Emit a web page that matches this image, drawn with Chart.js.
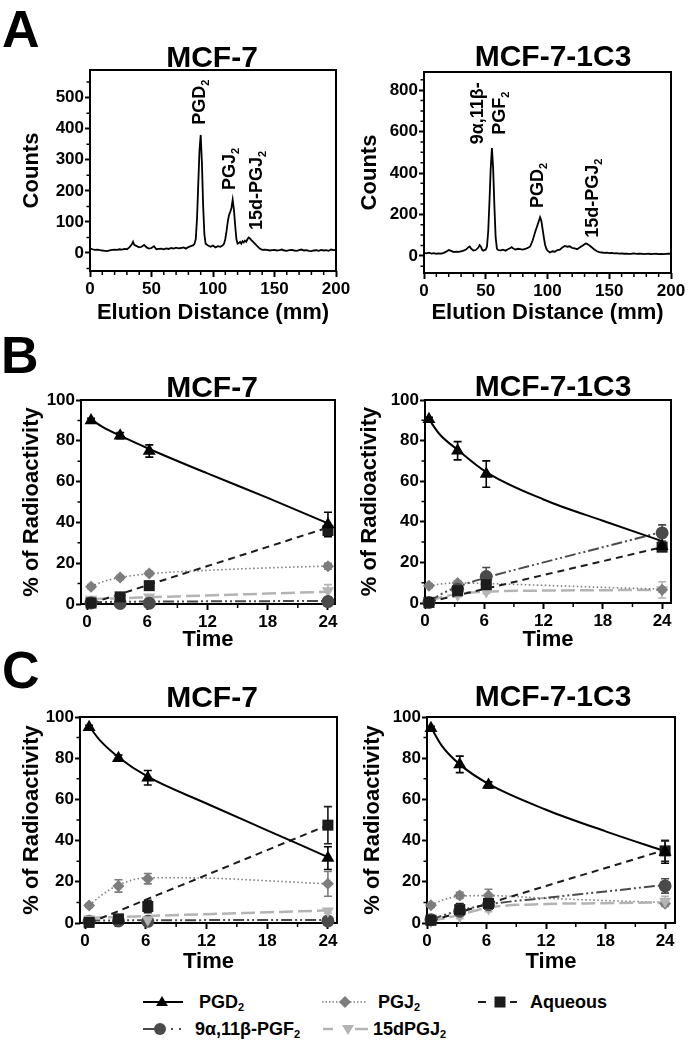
<!DOCTYPE html>
<html>
<head>
<meta charset="utf-8">
<title>PGD2 metabolism in MCF-7 cells</title>
<script src="https://cdn.jsdelivr.net/npm/chart.js@4.4.1/dist/chart.umd.min.js"></script>
<style>
  html, body { margin: 0; padding: 0; background: #fff; }
  body { position: relative; width: 690px; height: 1050px; overflow: hidden;
         font-family: "Liberation Sans", Arial, sans-serif; font-weight: bold; color: #000; }
  canvas { position: absolute; }
  .letter { position: absolute; font-size: 52px; line-height: 1; }
  .key { position: absolute; font-size: 18px; line-height: 20px; white-space: nowrap; }
  .key sub { font-size: 11px; vertical-align: -3px; }
  svg { position: absolute; overflow: visible; }
</style>
</head>
<body>
<div class="letter" style="left:2px; top:3px;">A</div>
<div class="letter" style="left:1px; top:329px;">B</div>
<div class="letter" style="left:2px; top:644px;">C</div>

<canvas id="chromMCF7"></canvas>
<canvas id="chrom1C3"></canvas>
<canvas id="bMCF7"></canvas>
<canvas id="b1C3"></canvas>
<canvas id="cMCF7"></canvas>
<canvas id="c1C3"></canvas>

<!-- legend -->
<svg style="left:143px; top:992px;" width="42" height="20">
  <line x1="0" y1="10" x2="40" y2="10" stroke="#000" stroke-width="2"/>
  <polygon points="19,4 25,14 13,14" fill="#000"/>
</svg>
<div class="key" style="left:199px; top:992px;">PGD<sub>2</sub></div>

<svg style="left:322px; top:992px;" width="46" height="20">
  <line x1="0" y1="10" x2="45" y2="10" stroke="#7d7d7d" stroke-width="1.6" stroke-dasharray="1.5,2"/>
  <polygon points="23,4 29,10 23,16 17,10" fill="#7d7d7d"/>
</svg>
<div class="key" style="left:378px; top:992px;">PGJ<sub>2</sub></div>

<svg style="left:477px; top:992px;" width="42" height="20">
  <line x1="1" y1="10" x2="9" y2="10" stroke="#1c1c1c" stroke-width="2"/>
  <line x1="33" y1="10" x2="40" y2="10" stroke="#1c1c1c" stroke-width="2"/>
  <rect x="17.5" y="4.5" width="11" height="11" fill="#1c1c1c"/>
</svg>
<div class="key" style="left:530px; top:992px;">Aqueous</div>

<svg style="left:143px; top:1019px;" width="42" height="20">
  <line x1="0" y1="10" x2="17" y2="10" stroke="#4a4a4a" stroke-width="2"/>
  <circle cx="17" cy="10" r="6" fill="#4a4a4a"/>
  <line x1="28" y1="10" x2="30" y2="10" stroke="#4a4a4a" stroke-width="2"/>
  <line x1="36" y1="10" x2="38" y2="10" stroke="#4a4a4a" stroke-width="2"/>
</svg>
<div class="key" style="left:195px; top:1019px;">9&alpha;,11&beta;-PGF<sub>2</sub></div>

<svg style="left:322px; top:1019px;" width="48" height="20">
  <line x1="1" y1="10" x2="11" y2="10" stroke="#b4b4b4" stroke-width="2.5"/>
  <line x1="33" y1="10" x2="46" y2="10" stroke="#b4b4b4" stroke-width="2.5"/>
  <polygon points="26,16 32,6 20,6" fill="#b4b4b4"/>
</svg>
<div class="key" style="left:373px; top:1019px;">15dPGJ<sub>2</sub></div>

<script>
// ---------- Panel A: radio-chromatograms (elution distance in mm, counts) ----------
const distMCF7 = [
  0, 2, 4, 6, 8, 10, 12, 14, 16, 18,
  20, 22, 24, 26, 28, 30, 32, 34, 35, 36,
  38, 40, 42, 44, 46, 48, 50, 52, 54, 56,
  58, 60, 62, 64, 66, 68, 70, 72, 74, 76,
  78, 80, 82, 84, 85, 86, 87, 88, 89, 90,
  91, 92, 93, 94, 96, 98, 100, 102, 104, 106,
  108, 109, 110, 111, 112, 113, 114, 115, 116, 117,
  118, 119, 120, 121, 122, 123, 124, 125, 126, 127,
  128, 129, 130, 131, 132, 134, 136, 138, 140, 142,
  144, 146, 148, 150, 152, 154, 156, 158, 160, 162,
  164, 166, 168, 170, 172, 174, 176, 178, 180, 182,
  184, 186, 188, 190, 192, 194, 196, 198, 200
];
const countsMCF7 = [
  15, 12, 10, 11, 9, 8, 7, 6, 8, 10,
  11, 10, 12, 11, 13, 12, 18, 28, 36, 26,
  22, 18, 20, 26, 18, 14, 16, 22, 12, 13,
  14, 12, 15, 13, 16, 14, 17, 15, 16, 18,
  14, 19, 22, 25, 30, 45, 110, 220, 330, 380,
  290, 150, 60, 30, 24, 20, 24, 18, 22, 20,
  25, 30, 45, 70, 100, 122, 132, 145, 171, 140,
  90, 45, 30, 32, 36, 30, 38, 34, 40, 36,
  44, 50, 47, 42, 38, 30, 22, 14, 10, 11,
  10, 8, 9, 10, 8, 9, 11, 8, 7, 9,
  10, 8, 7, 9, 11, 8, 9, 7, 6, 8,
  9, 7, 10, 8, 9, 7, 11, 9, 10
];
const dist1C3 = [
  0, 2, 4, 6, 8, 10, 12, 14, 16, 18,
  20, 22, 24, 26, 28, 30, 32, 34, 36, 37,
  38, 40, 42, 44, 45, 46, 47, 48, 50, 51,
  52, 53, 54, 55, 56, 57, 58, 59, 60, 62,
  64, 66, 68, 70, 71, 72, 74, 76, 78, 80,
  82, 84, 86, 88, 90, 92, 94, 95, 96, 97,
  98, 99, 100, 102, 104, 106, 108, 110, 112, 114,
  116, 118, 120, 122, 124, 126, 128, 130, 131, 132,
  134, 136, 138, 140, 142, 144, 146, 148, 150, 152,
  154, 156, 158, 160, 162, 164, 166, 168, 170, 172,
  174, 176, 178, 180, 182, 184, 186, 188, 190, 192,
  194, 196, 198, 200
];
const counts1C3 = [
  14, 12, 15, 11, 13, 10, 12, 11, 14, 20,
  28, 24, 18, 20, 19, 22, 25, 30, 42, 45,
  36, 26, 28, 40, 52, 45, 30, 25, 30, 45,
  120, 260, 420, 520, 420, 240, 90, 35, 28, 26,
  30, 25, 32, 38, 42, 36, 30, 34, 32, 30,
  33, 38, 45, 75, 115, 150, 186, 170, 130, 90,
  55, 35, 25, 16, 22, 20, 28, 30, 40, 48,
  44, 46, 38, 36, 32, 40, 48, 56, 60, 58,
  50, 40, 30, 22, 18, 16, 14, 15, 13, 14,
  12, 13, 11, 12, 10, 11, 9, 10, 12, 9,
  10, 11, 8, 9, 10, 8, 9, 10, 8, 9,
  8, 9, 10, 9
];
const elutionTicks = [0, 50, 100, 150, 200];
const countTicksMCF7 = [0, 100, 200, 300, 400, 500];
const countTicks1C3 = [0, 200, 400, 600, 800];

// ---------- Panels B and C: % of radioactivity over time (h) ----------
const sampleTimes = [0.4, 3.3, 6.2, 24];
const fitTimes = [0.4, 1.5, 3.3, 6.2, 12, 18, 24];
const timeTicks = [0, 6, 12, 18, 24];
const pctTicks = [0, 20, 40, 60, 80, 100];

// B, MCF-7
const bMcfPGD2 = [90, 82.5, 75, 39];
const bMcfPGD2Err = [1, 1.5, 3, 6];
const bMcfPGD2Fit = [90.5, 87, 82.5, 76, 64, 52, 39.5];
const bMcfPGJ2 = [8.5, 13, 15, 18.5];
const bMcfPGJ2Err = [1, 1, 1, 1.5];
const bMcfPGJ2Fit = [8.5, 10.8, 13, 14.8, 16.5, 17.7, 18.6];
const bMcfAq = [0.5, 3.5, 9, 36];
const bMcfAqErr = [0.3, 0.5, 1, 2];
const bMcfAqFit = [0.4, 2.1, 4.9, 9.5, 18.6, 28, 37.5];
const bMcfPGF2 = [0.5, 0.3, 0.4, 1.2];
const bMcfPGF2Err = [0.2, 0.2, 0.2, 0.5];
const bMcfPGF2Fit = [1, 1, 1.1, 1.2, 1.3, 1.4, 1.5];
const bMcf15d = [2.3, 2.8, 3.4, 6.5];
const bMcf15dErr = [0.5, 0.5, 0.5, 3];
const bMcf15dFit = [2.4, 2.6, 2.85, 3.3, 4.2, 5.1, 6];

// B, MCF-7-1C3
const b1c3PGD2 = [90.5, 75, 63.5, 28];
const b1c3PGD2Err = [1, 4.5, 6.5, 2];
const b1c3PGD2Fit = [90.5, 83, 75.5, 64.5, 51, 40.5, 30.5];
const b1c3PGJ2 = [8.5, 9.8, 9.2, 6.5];
const b1c3PGJ2Err = [1, 1, 1, 1];
const b1c3PGJ2Fit = [8.5, 9.3, 9.9, 9.6, 8.7, 7.7, 6.8];
const b1c3Aq = [0.3, 6, 9, 27.5];
const b1c3AqErr = [0.3, 1, 1.5, 2];
const b1c3AqFit = [0.5, 1.8, 3.8, 7.1, 13.8, 20.6, 27.5];
const b1c3PGF2 = [0.3, 6.8, 13, 34.5];
const b1c3PGF2Err = [0.3, 2, 4.5, 4];
const b1c3PGF2Fit = [0.5, 4, 8, 12.5, 20, 27.5, 35];
const b1c315d = [0.5, 4, 5.7, 6.5];
const b1c315dErr = [0.3, 1, 1, 4];
const b1c315dFit = [1, 2.6, 4.5, 5.6, 6.1, 6.3, 6.5];

// C, MCF-7
const cMcfPGD2 = [95, 80, 70.5, 31.5];
const cMcfPGD2Err = [1, 1.5, 3.5, 5.5];
const cMcfPGD2Fit = [95.5, 88.5, 80.5, 71, 58, 45, 32];
const cMcfPGJ2 = [8.5, 18, 21.5, 19];
const cMcfPGJ2Err = [1, 3, 2.5, 6];
const cMcfPGJ2Fit = [8.5, 13, 18.5, 22, 21.8, 20.5, 19];
const cMcfAq = [0.3, 2, 8, 47.5];
const cMcfAqErr = [0.3, 0.5, 3, 9];
const cMcfAqFit = [0, 2.2, 5.8, 11.7, 23.3, 35.4, 47.5];
const cMcfPGF2 = [0.8, 1, 0.8, 1];
const cMcfPGF2Err = [0.3, 0.3, 0.3, 0.3];
const cMcfPGF2Fit = [1.2, 1.2, 1.3, 1.3, 1.4, 1.5, 1.5];
const cMcf15d = [2, 2.4, 1.6, 5.8];
const cMcf15dErr = [0.5, 0.5, 0.5, 1];
const cMcf15dFit = [2.5, 2.7, 2.9, 3.4, 4.3, 5.2, 6.1];

// C, MCF-7-1C3
const c1c3PGD2 = [94.5, 77, 67, 34.5];
const c1c3PGD2Err = [1, 4, 1.5, 5.5];
const c1c3PGD2Fit = [95, 86, 77, 67.5, 55, 44.5, 34.8];
const c1c3PGJ2 = [8.6, 13.4, 13.4, 9.3];
const c1c3PGJ2Err = [1, 1.5, 3, 1];
const c1c3PGJ2Fit = [8.6, 11, 13, 13.3, 12, 10.9, 10];
const c1c3Aq = [1.3, 6.5, 9.5, 35];
const c1c3AqErr = [0.3, 3, 2, 5];
const c1c3AqFit = [1, 2.6, 5.2, 9.5, 18, 26.7, 35.5];
const c1c3PGF2 = [1.6, 5.7, 8.9, 18];
const c1c3PGF2Err = [0.3, 1, 1.5, 3.5];
const c1c3PGF2Fit = [1.5, 3.5, 6, 9, 12.2, 15.3, 18.5];
const c1c315d = [0.8, 3.2, 7, 10.5];
const c1c315dErr = [0.3, 1, 1.5, 2.5];
const c1c315dFit = [1, 2, 4, 7.5, 9.2, 9.6, 10];

// look of each metabolite
const seriesStyle = {
  PGD2:  { color: '#000000', pointStyle: 'triangle', rotation: 0,   radius: 7.5, dash: [],                 width: 2 },
  PGJ2:  { color: '#7d7d7d', pointStyle: 'rectRot',  rotation: 0,   radius: 6,   dash: [1.5, 2.5],         width: 1.6 },
  Aq:    { color: '#1c1c1c', pointStyle: 'rect',     rotation: 0,   radius: 7.8, dash: [7, 5],             width: 2 },
  PGF2:  { color: '#4a4a4a', pointStyle: 'circle',   rotation: 0,   radius: 6.5, dash: [11, 3, 2, 3, 2, 3], width: 2 },
  d15:   { color: '#b4b4b4', pointStyle: 'triangle', rotation: 180, radius: 7,   dash: [14, 5],            width: 2.5 }
};

Chart.defaults.font.family = "'Liberation Sans', Arial, sans-serif";
Chart.defaults.font.weight = 'bold';
Chart.defaults.color = '#000';

// Helper: text with subscripts, drawn rotated (reads bottom to top)
function drawRotatedRich(ctx, x, y, parts, align) {
  ctx.save();
  ctx.translate(x, y);
  ctx.rotate(-Math.PI / 2);
  ctx.fillStyle = '#000';
  ctx.textBaseline = 'middle';
  ctx.textAlign = 'left';
  let total = 0;
  parts.forEach(p => {
    ctx.font = p[1] ? "bold 11px 'Liberation Sans'" : "bold 18px 'Liberation Sans'";
    total += ctx.measureText(p[0]).width;
  });
  let cur = align === 'center' ? -total / 2 : 0;
  parts.forEach(p => {
    ctx.font = p[1] ? "bold 11px 'Liberation Sans'" : "bold 18px 'Liberation Sans'";
    ctx.fillText(p[0], cur, p[1] ? 6 : 0);
    cur += ctx.measureText(p[0]).width;
  });
  ctx.restore();
}

function minorValues(scale, step, majors) {
  const out = [];
  if (!step) return out;
  for (let v = Math.ceil(scale.min / step) * step; v <= scale.max + 1e-9; v += step) {
    if (!majors.some(m => Math.abs(m - v) < 1e-6)) out.push(v);
  }
  return out;
}

// frame, minor ticks, panel title, peak labels
const panelDecor = {
  id: 'panelDecor',
  beforeDatasetsDraw(chart, args, o) {
    const { ctx, chartArea: a, scales: { x, y } } = chart;
    ctx.save();
    ctx.strokeStyle = '#000';
    ctx.lineWidth = 1.5;
    ctx.beginPath();
    minorValues(x, o.minorX, o.xTicks).forEach(v => {
      const px = x.getPixelForValue(v);
      ctx.moveTo(px, a.bottom); ctx.lineTo(px, a.bottom + 4);
    });
    minorValues(y, o.minorY, o.yTicks).forEach(v => {
      const py = y.getPixelForValue(v);
      ctx.moveTo(a.left, py); ctx.lineTo(a.left - 3.5, py);
    });
    ctx.stroke();
    ctx.lineWidth = 2;
    ctx.strokeRect(a.left, a.top, a.right - a.left, a.bottom - a.top);
    ctx.restore();
  },
  afterDraw(chart, args, o) {
    const { ctx, scales: { x, y } } = chart;
    ctx.save();
    ctx.fillStyle = '#000';
    ctx.font = "bold 30px 'Liberation Sans'";
    ctx.textAlign = 'center';
    ctx.textBaseline = 'middle';
    ctx.fillText(o.title, o.titleX, o.titleY);
    ctx.restore();
    (o.peaks || []).forEach(p => {
      drawRotatedRich(ctx, x.getPixelForValue(p.x), y.getPixelForValue(p.y), p.parts, p.align);
    });
  }
};

// mean +/- SD bars under the markers
const errorBars = {
  id: 'errorBars',
  beforeDatasetsDraw(chart) {
    const { ctx, scales: { x, y } } = chart;
    chart.data.datasets.forEach(ds => {
      if (!ds.errors) return;
      ctx.save();
      ctx.strokeStyle = ds.pointBackgroundColor;
      ctx.lineWidth = 1.6;
      ds.data.forEach((p, i) => {
        const e = ds.errors[i];
        if (!e) return;
        const px = x.getPixelForValue(p.x);
        const top = y.getPixelForValue(p.y + e);
        const bot = y.getPixelForValue(Math.max(p.y - e, y.min));
        ctx.beginPath();
        ctx.moveTo(px, top); ctx.lineTo(px, bot);
        ctx.moveTo(px - 4, top); ctx.lineTo(px + 4, top);
        ctx.moveTo(px - 4, bot); ctx.lineTo(px + 4, bot);
        ctx.stroke();
      });
      ctx.restore();
    });
  }
};

function buildChart(id, box, area, cfg) {
  const canvas = document.getElementById(id);
  canvas.width = box.w; canvas.height = box.h;
  canvas.style.width = box.w + 'px'; canvas.style.height = box.h + 'px';
  canvas.style.left = box.x + 'px'; canvas.style.top = box.y + 'px';
  const xAxisH = box.y + box.h - area.bottom;
  const yAxisW = area.left - box.x;
  return new Chart(canvas, {
    type: 'scatter',
    data: { datasets: cfg.datasets },
    options: {
      responsive: false,
      animation: false,
      events: [],
      layout: { padding: { left: 0, top: area.top - box.y, right: box.x + box.w - area.right, bottom: 0 } },
      plugins: {
        legend: { display: false },
        tooltip: { enabled: false },
        panelDecor: {
          title: cfg.title, titleX: cfg.titleX - box.x, titleY: cfg.titleY - box.y,
          minorX: cfg.minorX, minorY: cfg.minorY, xTicks: cfg.xTicks, yTicks: cfg.yTicks,
          peaks: cfg.peaks || []
        }
      },
      scales: {
        x: {
          type: 'linear', min: cfg.xMin, max: cfg.xMax,
          afterFit: s => { s.height = xAxisH; },
          afterBuildTicks: s => { s.ticks = cfg.xTicks.map(v => ({ value: v })); },
          ticks: { font: { size: 17 }, padding: 2, maxRotation: 0, autoSkip: false, color: '#000' },
          grid: { drawOnChartArea: false, tickLength: 6, tickWidth: 2, tickColor: '#000' },
          border: { display: false },
          title: { display: true, text: cfg.xTitle, font: { size: 22 }, color: '#000',
                   padding: { top: 0, bottom: cfg.xTitlePad } }
        },
        y: {
          type: 'linear', min: cfg.yMin, max: cfg.yMax,
          afterFit: s => { s.width = yAxisW; },
          afterBuildTicks: s => { s.ticks = cfg.yTicks.map(v => ({ value: v })); },
          ticks: { font: { size: 17 }, padding: 1, autoSkip: false, color: '#000' },
          grid: { drawOnChartArea: false, tickLength: 5, tickWidth: 2, tickColor: '#000' },
          border: { display: false },
          title: { display: true, text: cfg.yTitle, font: { size: 22 }, color: '#000',
                   padding: { top: cfg.yTitlePad, bottom: 0 } }
        }
      }
    },
    plugins: [panelDecor, errorBars]
  });
}

function traceDataset(xs, ys) {
  return [{
    data: xs.map((v, i) => ({ x: v, y: ys[i] })),
    showLine: true, pointRadius: 0, borderColor: '#000', borderWidth: 1.8, tension: 0
  }];
}

// series: [key, values, errors, fit] ; first entry is drawn on top
function timeDatasets(series) {
  const out = [];
  series.forEach((s, i) => {
    const st = seriesStyle[s[0]];
    out.push({
      data: sampleTimes.map((t, j) => ({ x: t, y: s[1][j] })),
      errors: s[2],
      showLine: false,
      pointStyle: st.pointStyle, pointRotation: st.rotation, pointRadius: st.radius,
      pointBackgroundColor: st.color, pointBorderColor: st.color, pointBorderWidth: 0,
      borderColor: st.color, order: i, clip: false
    });
    out.push({
      data: fitTimes.map((t, j) => ({ x: t, y: s[3][j] })),
      showLine: true, pointRadius: 0,
      borderColor: st.color, borderWidth: st.width, borderDash: st.dash,
      cubicInterpolationMode: 'monotone', order: 10 + i
    });
  });
  return out;
}

const sub2 = t => [[t, 0], ['2', 1]];

// ---- Panel A ----
buildChart('chromMCF7', { x: 0, y: 30, w: 362, h: 300 }, { left: 90, top: 70, right: 336, bottom: 271 }, {
  datasets: traceDataset(distMCF7, countsMCF7),
  title: 'MCF-7', titleX: 212, titleY: 59,
  xMin: 0, xMax: 200, yMin: -58, yMax: 589,
  xTicks: elutionTicks, yTicks: countTicksMCF7, minorX: 10, minorY: 50,
  xTitle: 'Elution Distance (mm)', yTitle: 'Counts', xTitlePad: 4, yTitlePad: 19,
  peaks: [
    { x: 89.4, y: 413, parts: sub2('PGD'), align: 'left' },
    { x: 113.8, y: 203, parts: sub2('PGJ'), align: 'left' },
    { x: 135.8, y: 74, parts: sub2('15d-PGJ'), align: 'left' }
  ]
});

buildChart('chrom1C3', { x: 345, y: 30, w: 345, h: 300 }, { left: 424, top: 72, right: 671, bottom: 273 }, {
  datasets: traceDataset(dist1C3, counts1C3),
  title: 'MCF-7-1C3', titleX: 553, titleY: 58,
  xMin: 0, xMax: 200, yMin: -83, yMax: 888,
  xTicks: elutionTicks, yTicks: countTicks1C3, minorX: 10, minorY: 50,
  xTitle: 'Elution Distance (mm)', yTitle: 'Counts', xTitlePad: 4, yTitlePad: 12,
  peaks: [
    { x: 43.7, y: 689, parts: [['9\u03b1,11\u03b2-', 0]], align: 'center' },
    { x: 61.5, y: 689, parts: sub2('PGF'), align: 'center' },
    { x: 92.3, y: 231, parts: sub2('PGD'), align: 'left' },
    { x: 136.8, y: 87, parts: sub2('15d-PGJ'), align: 'left' }
  ]
});

// ---- Panel B ----
buildChart('bMCF7', { x: 0, y: 360, w: 362, h: 295 }, { left: 81, top: 400, right: 335, bottom: 604 }, {
  datasets: timeDatasets([
    ['PGD2', bMcfPGD2, bMcfPGD2Err, bMcfPGD2Fit],
    ['Aq', bMcfAq, bMcfAqErr, bMcfAqFit],
    ['PGJ2', bMcfPGJ2, bMcfPGJ2Err, bMcfPGJ2Fit],
    ['PGF2', bMcfPGF2, bMcfPGF2Err, bMcfPGF2Fit],
    ['d15', bMcf15d, bMcf15dErr, bMcf15dFit]
  ]),
  title: 'MCF-7', titleX: 212, titleY: 389,
  xMin: -0.6, xMax: 24.7, yMin: 0, yMax: 100,
  xTicks: timeTicks, yTicks: pctTicks, minorX: 3, minorY: 10,
  xTitle: 'Time', yTitle: '% of Radioactivity', xTitlePad: 2, yTitlePad: 19
});

buildChart('b1C3', { x: 345, y: 360, w: 345, h: 295 }, { left: 425, top: 400, right: 671, bottom: 603 }, {
  datasets: timeDatasets([
    ['PGD2', b1c3PGD2, b1c3PGD2Err, b1c3PGD2Fit],
    ['Aq', b1c3Aq, b1c3AqErr, b1c3AqFit],
    ['PGF2', b1c3PGF2, b1c3PGF2Err, b1c3PGF2Fit],
    ['PGJ2', b1c3PGJ2, b1c3PGJ2Err, b1c3PGJ2Fit],
    ['d15', b1c315d, b1c315dErr, b1c315dFit]
  ]),
  title: 'MCF-7-1C3', titleX: 553, titleY: 388,
  xMin: 0, xMax: 24.9, yMin: 0, yMax: 100,
  xTicks: timeTicks, yTicks: pctTicks, minorX: 3, minorY: 10,
  xTitle: 'Time', yTitle: '% of Radioactivity', xTitlePad: 2, yTitlePad: 12
});

// ---- Panel C ----
buildChart('cMCF7', { x: 0, y: 680, w: 362, h: 295 }, { left: 80, top: 717, right: 337, bottom: 923 }, {
  datasets: timeDatasets([
    ['PGD2', cMcfPGD2, cMcfPGD2Err, cMcfPGD2Fit],
    ['Aq', cMcfAq, cMcfAqErr, cMcfAqFit],
    ['PGJ2', cMcfPGJ2, cMcfPGJ2Err, cMcfPGJ2Fit],
    ['d15', cMcf15d, cMcf15dErr, cMcf15dFit],
    ['PGF2', cMcfPGF2, cMcfPGF2Err, cMcfPGF2Fit]
  ]),
  title: 'MCF-7', titleX: 212, titleY: 699,
  xMin: -0.5, xMax: 24.9, yMin: 0, yMax: 100,
  xTicks: timeTicks, yTicks: pctTicks, minorX: 3, minorY: 10,
  xTitle: 'Time', yTitle: '% of Radioactivity', xTitlePad: 0, yTitlePad: 19
});

buildChart('c1C3', { x: 345, y: 680, w: 345, h: 295 }, { left: 427, top: 717, right: 675, bottom: 923 }, {
  datasets: timeDatasets([
    ['PGD2', c1c3PGD2, c1c3PGD2Err, c1c3PGD2Fit],
    ['Aq', c1c3Aq, c1c3AqErr, c1c3AqFit],
    ['PGF2', c1c3PGF2, c1c3PGF2Err, c1c3PGF2Fit],
    ['d15', c1c315d, c1c315dErr, c1c315dFit],
    ['PGJ2', c1c3PGJ2, c1c3PGJ2Err, c1c3PGJ2Fit]
  ]),
  title: 'MCF-7-1C3', titleX: 553, titleY: 698,
  xMin: 0, xMax: 25, yMin: 0, yMax: 100,
  xTicks: timeTicks, yTicks: pctTicks, minorX: 3, minorY: 10,
  xTitle: 'Time', yTitle: '% of Radioactivity', xTitlePad: 0, yTitlePad: 15
});
</script>
</body>
</html>
